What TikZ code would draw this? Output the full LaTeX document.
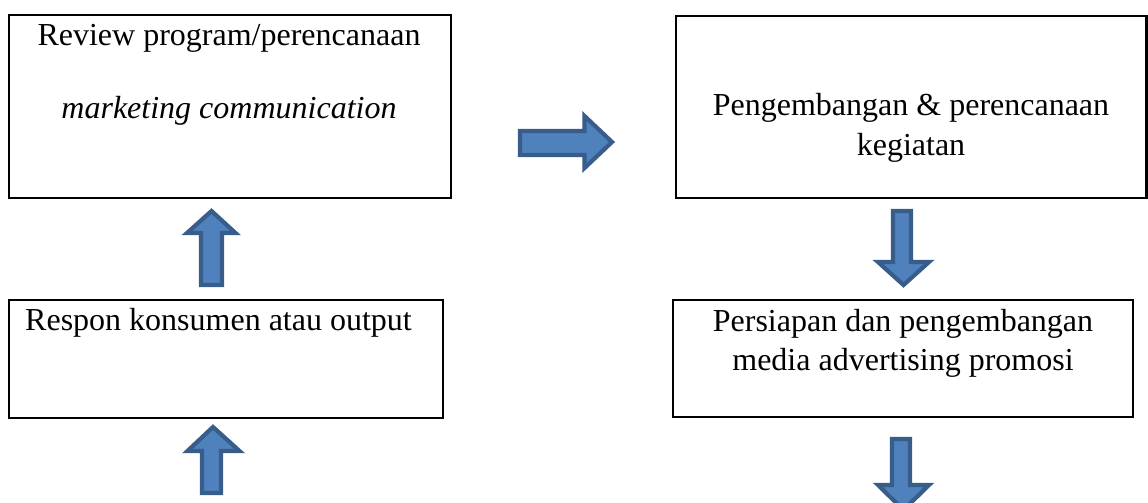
\documentclass[tikz,border=0pt]{standalone}
\usepackage{fontspec}
\setmainfont{Liberation Serif}
\begin{document}
\begin{tikzpicture}[x=1pt,y=-1pt,
  box/.style={draw=black,line width=2.4pt,fill=white},
  lbl/.style={anchor=base,inner sep=0pt,font=\fontsize{32}{38}\selectfont},
  blockarrow/.style={fill=arrowfill,draw=arrowline,line width=4.2pt,line join=miter}]
\definecolor{arrowfill}{HTML}{4F81BD}
\definecolor{arrowline}{HTML}{385D8A}
\useasboundingbox (0,0) rectangle (1148,503);
% boxes
\draw[box] (9,15) rectangle (451,198) coordinate (b1);
\draw[box] (676,16) rectangle (1146.5,198) coordinate (b2);
\draw[box] (9,300) rectangle (443,418) coordinate (b3);
\draw[box] (673,300) rectangle (1133,417) coordinate (b4);
% texts
\node[lbl] (t1a) at (229,46) {Review program/perencanaan};
\node[lbl] (t1b) at (229,118) {\itshape marketing communication};
\node[lbl] (t2a) at (911,115) {Pengembangan \& perencanaan};
\node[lbl] (t2b) at (911,155) {kegiatan};
\node[lbl,anchor=base west] (t3) at (25,330) {Respon konsumen atau output};
\node[lbl] (t4a) at (903,331) {Persiapan dan pengembangan};
\node[lbl] (t4b) at (903,370) {media advertising promosi};
% right arrow
\draw[blockarrow] (520,131) -- (584.5,131) -- (584.5,116) -- (612,142) -- (584.5,168) -- (584.5,155) -- (520,155) -- cycle;
% up arrow 1
\draw[blockarrow] (201,285) -- (201,233) -- (187,233) -- (211.5,211) -- (235.5,233) -- (222,233) -- (222,285) -- cycle;
% up arrow 2
\draw[blockarrow] (202,493) -- (202,451) -- (187.5,451) -- (213,427) -- (239.5,451) -- (221,451) -- (221,493) -- cycle;
% down arrow 1
\draw[blockarrow] (893,211) -- (911,211) -- (911,262) -- (929,262) -- (903.5,285) -- (878,262) -- (893,262) -- cycle;
% down arrow 2
\draw[blockarrow] (892,439) -- (910,439) -- (910,485) -- (929,485) -- (903.5,510) -- (878,485) -- (892,485) -- cycle;
\end{tikzpicture}
\end{document}
